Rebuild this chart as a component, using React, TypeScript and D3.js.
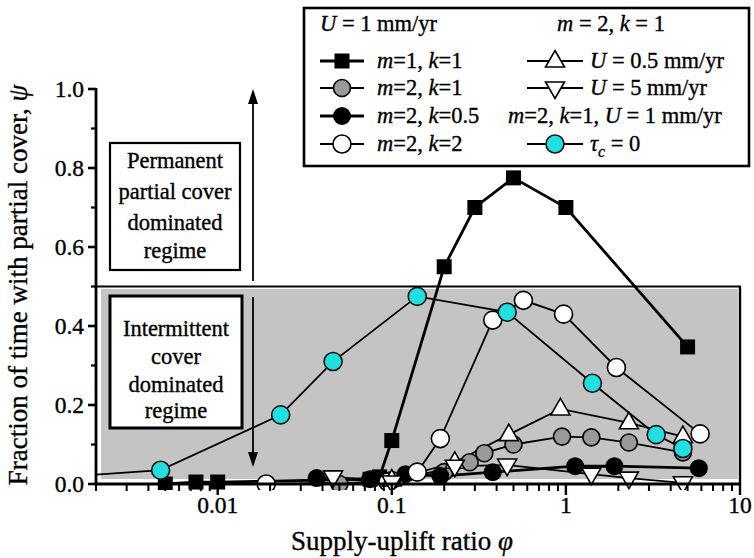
import React from "react";
import * as d3 from "d3";

// ---------- data ----------
type P = [number, number];
const m1k1: P[] = [[0.005, 0.0], [0.0075, 0.005], [0.01, 0.005], [0.075, 0.012], [0.085, 0.018], [0.1, 0.11], [0.2, 0.55], [0.3, 0.7], [0.5, 0.775], [1.0, 0.7], [5.0, 0.347]];
const m2k1: P[] = [[0.05, 0.0], [0.1, 0.01], [0.2, 0.03], [0.28, 0.055], [0.34, 0.078], [0.5, 0.1], [0.95, 0.12], [1.4, 0.118], [2.3, 0.105], [4.7, 0.08]];
const m2k05: P[] = [[0.037, 0.015], [0.075, 0.012], [0.12, 0.025], [0.19, 0.02], [0.38, 0.03], [1.13, 0.045], [1.9, 0.045], [5.8, 0.04]];
const m2k2: P[] = [[0.019, 0.0], [0.095, 0.005], [0.14, 0.03], [0.19, 0.115], [0.38, 0.415], [0.57, 0.465], [0.97, 0.43], [1.95, 0.295], [5.9, 0.127]];
const u05: P[] = [[0.1, 0.01], [0.23, 0.055], [0.47, 0.125], [0.93, 0.19], [2.3, 0.155], [4.7, 0.12]];
const u5: P[] = [[0.046, 0.018], [0.1, 0.005], [0.23, 0.045], [0.46, 0.048], [1.4, 0.025], [2.3, 0.015], [4.7, 0.003]];
const tau0: P[] = [[0.0015, 0.02], [0.0047, 0.035], [0.023, 0.175], [0.046, 0.31], [0.14, 0.475], [0.46, 0.435], [1.42, 0.255], [3.3, 0.125], [4.7, 0.09]];

const yTicks = [0, 0.2, 0.4, 0.6, 0.8, 1.0];
const yMinor = [0.1, 0.3, 0.5, 0.7, 0.9];
const xTicks = [0.01, 0.1, 1, 10];
const xTickLabels = ["0.01", "0.1", "1", "10"];

type Kind = "square" | "gray" | "black" | "white" | "up" | "down" | "cyan";
const series: { data: P[]; kind: Kind; lw: number }[] = [
  { data: m1k1, kind: "square", lw: 2.8 },
  { data: m2k1, kind: "gray", lw: 1.8 },
  { data: m2k05, kind: "black", lw: 2.8 },
  { data: m2k2, kind: "white", lw: 1.8 },
  { data: u05, kind: "up", lw: 1.8 },
  { data: u5, kind: "down", lw: 1.8 },
  { data: tau0, kind: "cyan", lw: 1.8 },
];

const FONT = "'Liberation Serif', 'Times New Roman', serif";
const CYAN = "#1fe0e0";
const FS = 22.5; // annotation/legend text size
const TS = 23.5; // tick label size

function Marker({ kind, cx, cy }: { kind: Kind; cx: number; cy: number }) {
  switch (kind) {
    case "square":
      return <rect x={cx - 7.5} y={cy - 7.5} width={15} height={15} fill="#000" />;
    case "gray":
      return <circle cx={cx} cy={cy} r={8.5} fill="#999" stroke="#000" strokeWidth={1.6} />;
    case "black":
      return <circle cx={cx} cy={cy} r={9} fill="#000" />;
    case "white":
      return <circle cx={cx} cy={cy} r={9} fill="#fff" stroke="#000" strokeWidth={1.6} />;
    case "up":
      return <path d={`M${cx},${cy - 10.5}L${cx + 9.5},${cy + 6}L${cx - 9.5},${cy + 6}Z`} fill="#fff" stroke="#000" strokeWidth={1.6} />;
    case "down":
      return <path d={`M${cx},${cy + 10.5}L${cx + 9.5},${cy - 6}L${cx - 9.5},${cy - 6}Z`} fill="#fff" stroke="#000" strokeWidth={1.6} />;
    case "cyan":
      return <circle cx={cx} cy={cy} r={9} fill={CYAN} stroke="#111" strokeWidth={1.6} />;
  }
}

const I = ({ children }: { children: React.ReactNode }) => <tspan fontStyle="italic">{children}</tspan>;

function T(props: any) {
  const { size, children, ...rest } = props;
  return (
    <text {...rest} stroke="#000" strokeWidth={0.35} style={{ fontFamily: FONT, fontSize: `${size}px` }}>
      {children}
    </text>
  );
}

export default function App() {
  const W = 754, H = 558;
  const x = d3.scaleLog().domain([0.002, 10]).range([96, 740]);
  const y = d3.scaleLinear().domain([0, 1]).range([484, 89]);
  const line = d3.line<P>().x((d) => x(d[0])).y((d) => y(d[1]));

  const xMinor: number[] = [];
  for (let e = -3; e <= 0; e++) {
    for (let k = 2; k <= 9; k++) {
      const v = k * Math.pow(10, e);
      if (v >= 0.002 && v <= 10) xMinor.push(v);
    }
  }

  const legL = 320, legR = 527;
  const rows = [61, 88, 116, 144];

  return (
    <svg width={W} height={H} style={{ position: "absolute", left: 0, top: 0, background: "#fff" }}>
      <defs>
        <clipPath id="plot">
          <rect x={96} y={80} width={650} height={410} />
        </clipPath>
      </defs>
      {/* grey intermittent region */}
      <rect x={101} y={289} width={637} height={190} fill="#c4c4c4" />
      <line x1={96} x2={741} y1={y(0.5)} y2={y(0.5)} stroke="#000" strokeWidth={2} />
      <line x1={740} x2={740} y1={y(0.5)} y2={485} stroke="#000" strokeWidth={2.4} />

      {/* annotation boxes */}
      <rect x={110} y={143} width={130} height={127} fill="#fff" stroke="#000" strokeWidth={2.2} />
      <g textAnchor="middle">
        <T size={FS} x={175} y={168}>Permanent</T>
        <T size={FS} x={175} y={199}>partial cover</T>
        <T size={FS} x={175} y={230}>dominated</T>
        <T size={FS} x={175} y={258}>regime</T>
      </g>
      <rect x={110} y={296} width={132} height={132} fill="#fff" stroke="#000" strokeWidth={3} />
      <g textAnchor="middle">
        <T size={FS} x={176} y={336}>Intermittent</T>
        <T size={FS} x={176} y={364}>cover</T>
        <T size={FS} x={176} y={392}>dominated</T>
        <T size={FS} x={176} y={418}>regime</T>
      </g>

      {/* arrows */}
      <line x1={253} x2={253} y1={281} y2={100} stroke="#000" strokeWidth={1.8} />
      <path d="M253,89L258,104L248,104Z" fill="#000" />
      <line x1={253} x2={253} y1={297} y2={455} stroke="#000" strokeWidth={1.8} />
      <path d="M253,467L258,452L248,452Z" fill="#000" />

      {/* series */}
      <g clipPath="url(#plot)">
        {series.map((s, i) => (
          <path key={i} d={line(s.data) || ""} fill="none" stroke="#000" strokeWidth={s.lw} />
        ))}
        {series.map((s, i) => (
          <g key={"m" + i}>
            {s.data.map((d, j) => (
              <Marker key={j} kind={s.kind} cx={x(d[0])} cy={y(d[1])} />
            ))}
          </g>
        ))}
      </g>

      {/* axes */}
      <line x1={96} x2={96} y1={88} y2={485.5} stroke="#000" strokeWidth={2.8} />
      <line x1={95} x2={741} y1={484} y2={484} stroke="#000" strokeWidth={2.8} />
      {yTicks.map((t) => (
        <g key={t}>
          <line x1={88} x2={96} y1={y(t)} y2={y(t)} stroke="#000" strokeWidth={2.6} />
          <T size={TS} x={84} y={y(t) + 8} textAnchor="end">{t.toFixed(1)}</T>
        </g>
      ))}
      {yMinor.map((t) => (
        <line key={t} x1={91} x2={96} y1={y(t)} y2={y(t)} stroke="#000" strokeWidth={2.2} />
      ))}
      {xTicks.map((t, i) => (
        <g key={t}>
          <line x1={x(t)} x2={x(t)} y1={484} y2={495} stroke="#000" strokeWidth={2.4} />
          <T size={TS} x={x(t)} y={513} textAnchor="middle">{xTickLabels[i]}</T>
        </g>
      ))}
      {xMinor.map((t) => (
        <line key={t} x1={x(t)} x2={x(t)} y1={484} y2={491} stroke="#000" strokeWidth={2} />
      ))}
      <T size={27} x={402} y={550} textAnchor="middle">
        Supply-uplift ratio <I>φ</I>
      </T>
      <T size={27} transform="translate(27,285) rotate(-90)" textAnchor="middle">
        Fraction of time with partial cover, <I>ψ</I>
      </T>

      {/* legend */}
      <rect x={304} y={8} width={445} height={158} fill="#fff" stroke="#000" strokeWidth={2.6} />
      <T size={FS} x={320} y={31}><I>U</I> = 1 mm/yr</T>
      <T size={FS} x={557} y={31}><I>m</I> = 2, <I>k</I> = 1</T>
      {([["square", 2.8, "1", "1"], ["gray", 1.8, "2", "1"], ["black", 2.8, "2", "0.5"], ["white", 1.8, "2", "2"]] as [Kind, number, string, string][]).map((r, i) => (
        <g key={i}>
          <line x1={legL} x2={legL + 44} y1={rows[i]} y2={rows[i]} stroke="#000" strokeWidth={r[1]} />
          <Marker kind={r[0]} cx={legL + 22} cy={rows[i]} />
          <T size={FS} x={377} y={rows[i] + 7}><I>m</I>={r[2]}, <I>k</I>={r[3]}</T>
        </g>
      ))}
      <line x1={legR} x2={legR + 56} y1={rows[0]} y2={rows[0]} stroke="#000" strokeWidth={1.8} />
      <Marker kind="up" cx={legR + 28} cy={rows[0]} />
      <T size={FS} x={590} y={rows[0] + 7}><I>U</I> = 0.5 mm/yr</T>
      <line x1={legR} x2={legR + 56} y1={rows[1]} y2={rows[1]} stroke="#000" strokeWidth={1.8} />
      <Marker kind="down" cx={legR + 28} cy={rows[1]} />
      <T size={FS} x={590} y={rows[1] + 7}><I>U</I> = 5 mm/yr</T>
      <T size={FS} x={508} y={rows[2] + 7}><I>m</I>=2, <I>k</I>=1, <I>U</I> = 1 mm/yr</T>
      <line x1={legR} x2={legR + 56} y1={rows[3]} y2={rows[3]} stroke="#000" strokeWidth={1.8} />
      <Marker kind="cyan" cx={legR + 28} cy={rows[3]} />
      <T size={FS} x={590} y={rows[3] + 7}>
        <I>τ</I><tspan fontStyle="italic" fontSize={16} dy={6}>c</tspan><tspan dy={-6}> = 0</tspan>
      </T>
    </svg>
  );
}
